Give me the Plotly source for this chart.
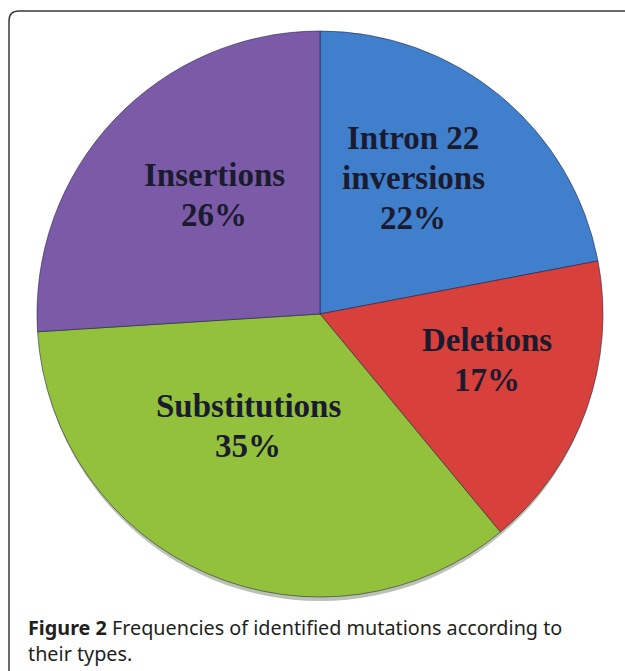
import math
import plotly.graph_objects as go

# ---- data ----
categories = ["Intron 22|inversions", "Deletions", "Substitutions", "Insertions"]
values = [22, 17, 35, 26]
percent_labels = ["22%", "17%", "35%", "26%"]
colors = ["#3f7fcc", "#d8413b", "#93c13c", "#7b5ba7"]

caption_bold = "Figure 2"
caption_text = " Frequencies of identified mutations according to<br>their types."

# ---- layout geometry (pixels) ----
W, H = 625, 671
cx_px, cy_px, r_px = 320, 314, 283
label_rfrac = [0.583, 0.611, 0.47, 0.562]
label_nudge_deg = [-5.2, -4.4, 9.3, 5.1]
line_gap = 40

fig = go.Figure()
fig.add_trace(go.Pie(
    labels=[c.replace("|", " ") for c in categories],
    values=values,
    sort=False,
    direction="clockwise",
    rotation=0,
    marker=dict(colors=colors, line=dict(color="rgba(30,30,70,0.55)", width=1)),
    textinfo="none",
    hoverinfo="label+percent",
    showlegend=False,
    domain=dict(x=[(cx_px - r_px) / W, (cx_px + r_px) / W],
                y=[1 - (cy_px + r_px) / H, 1 - (cy_px - r_px) / H]),
))

# labels positioned from the cumulative data angles
total = sum(values)
cum = 0
annotations = []
for i, v in enumerate(values):
    mid = (cum + v / 2) / total * 360 + label_nudge_deg[i]
    cum += v
    rr = label_rfrac[i] * r_px
    x_px = cx_px + rr * math.sin(math.radians(mid))
    y_px = cy_px - rr * math.cos(math.radians(mid))
    lines = categories[i].split("|") + [percent_labels[i]]
    n = len(lines)
    for k, ln in enumerate(lines):
        ly = y_px + (k - (n - 1) / 2) * line_gap
        annotations.append(dict(
            x=x_px / W, y=1 - ly / H, xref="paper", yref="paper",
            text=f"<b>{ln}</b>",
            showarrow=False, xanchor="center", yanchor="middle", align="center",
            font=dict(family="Liberation Serif", size=33, color="#1b1b30"),
        ))

annotations.append(dict(
    x=26 / W, y=1 - 640 / H, xref="paper", yref="paper",
    text=f"<b>{caption_bold}</b>{caption_text}",
    showarrow=False, xanchor="left", yanchor="middle", align="left",
    font=dict(family="Noto Sans", size=19.8, color="#231f20"),
))

# rounded frame (top-left corner visible, extends off right & bottom)
x0 = 9 / W
yt = 1 - 11 / H
rx = 10 / W
ry = 10 / H
frame_path = (f"M {x0},-0.05 L {x0},{yt - ry} Q {x0},{yt} {x0 + rx},{yt} L 1.05,{yt}")

shapes = [
    dict(type="path", path=frame_path, xref="paper", yref="paper",
         line=dict(color="#3a3a3a", width=1.5)),
    dict(type="circle", xref="paper", yref="paper", layer="below",
         x0=(cx_px - r_px + 1) / W, x1=(cx_px + r_px - 1) / W,
         y0=1 - (cy_px + r_px + 4) / H, y1=1 - (cy_px - r_px + 2) / H,
         fillcolor="rgba(60,80,40,0.35)", line=dict(width=0)),
]

fig.update_layout(
    width=W, height=H,
    margin=dict(l=0, r=0, t=0, b=0),
    paper_bgcolor="white", plot_bgcolor="white",
    annotations=annotations, shapes=shapes,
)

fig.write_html("out.html",
               config={"displayModeBar": False},
               post_script="document.body.style.margin='0px';document.body.style.overflow='hidden';")
